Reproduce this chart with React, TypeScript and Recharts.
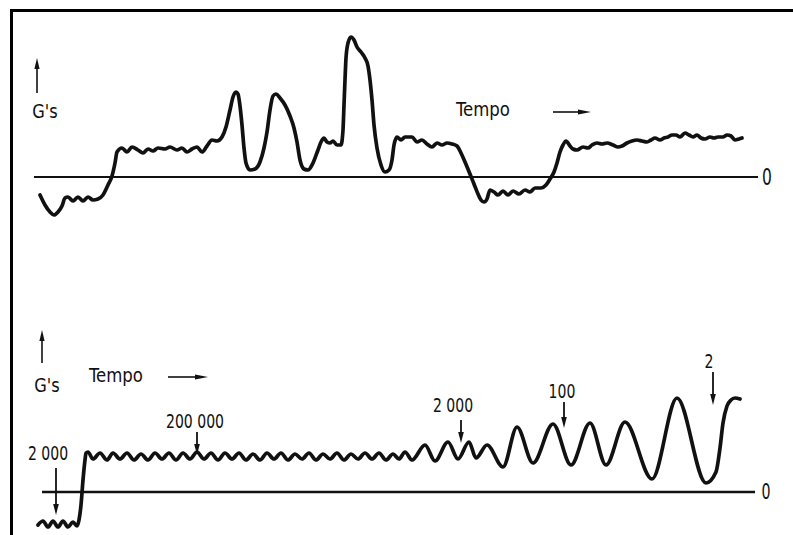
import React from 'react';
import { LineChart, Line, XAxis, YAxis, ReferenceLine, ReferenceDot } from 'recharts';

// ---------- Upper trace (time units, G) ----------
const topTime = [6, 11, 16, 20, 24, 28, 31, 34, 39, 44, 49, 54, 59, 64, 69, 74, 78, 81, 83, 88, 93, 98, 104, 109, 114, 119, 124, 131, 136, 143, 148, 153, 158, 163, 168, 173, 178, 183, 188, 192, 196, 199, 202, 204, 206, 208, 210, 212, 216, 221, 226, 230, 233, 236, 239, 242, 246, 251, 256, 260, 263, 266, 270, 274, 279, 284, 287, 290, 293, 296, 299, 303, 307, 309, 310, 311, 312, 314, 317, 320, 323, 327, 331, 334, 336, 338, 340, 343, 347, 351, 355, 358, 360, 363, 367, 371, 378, 383, 388, 393, 398, 403, 408, 413, 418, 423, 427, 431, 436, 440, 444, 447, 450, 453, 456, 460, 464, 469, 474, 479, 485, 491, 496, 501, 507, 512, 516, 520, 523, 526, 529, 532, 536, 539, 543, 549, 554, 558, 563, 568, 573, 579, 584, 588, 593, 598, 603, 608, 613, 617, 621, 626, 630, 634, 638, 642, 646, 651, 655, 659, 663, 667, 671, 676, 680, 684, 689, 693, 697, 701, 705, 708];
const topG = [-1.8, -2.8, -3.5, -3.8, -3.5, -2.9, -2.1, -2.0, -2.4, -2.0, -2.4, -2.0, -2.3, -2.2, -1.8, -0.8, 0.1, 1.4, 2.5, 2.9, 2.5, 3.0, 2.7, 2.4, 2.8, 2.6, 2.9, 2.8, 3.0, 2.7, 2.9, 2.5, 2.8, 3.0, 2.5, 3.1, 3.7, 3.6, 4.0, 5.0, 6.7, 8.0, 8.5, 8.3, 7.1, 5.2, 2.9, 1.4, 0.7, 0.8, 1.5, 2.9, 4.5, 6.7, 8.1, 8.3, 7.9, 7.2, 6.1, 4.9, 3.5, 1.7, 0.8, 0.7, 1.4, 2.7, 3.5, 3.9, 3.5, 3.4, 3.6, 3.2, 3.2, 4.7, 7.2, 9.7, 11.9, 13.4, 14.0, 13.7, 13.0, 12.5, 11.9, 11.1, 9.7, 7.7, 5.2, 2.9, 1.2, 0.5, 0.7, 1.7, 3.2, 4.0, 3.7, 4.0, 4.0, 3.5, 3.7, 3.3, 3.0, 3.4, 3.2, 3.4, 3.3, 3.1, 2.4, 1.5, 0.3, -0.7, -1.7, -2.3, -2.5, -2.2, -1.3, -1.5, -1.8, -1.4, -1.8, -1.4, -1.7, -1.3, -1.5, -1.1, -1.1, -0.8, -0.2, 0.5, 1.4, 2.5, 3.2, 3.6, 3.1, 2.8, 2.7, 3.0, 2.9, 3.2, 3.4, 3.3, 3.4, 3.2, 3.0, 3.1, 3.4, 3.6, 3.7, 3.6, 3.5, 3.7, 3.9, 3.7, 3.9, 4.0, 4.2, 4.2, 4.0, 4.4, 4.2, 4.0, 4.2, 3.9, 3.8, 4.0, 3.9, 4.0, 4.0, 4.2, 4.1, 3.7, 3.8, 3.9];

// ---------- Lower trace (time units, G) ----------
const bottomTime = [-4, 1, 6, 11, 16, 21, 26, 31, 35, 37, 39, 41, 43, 44, 46, 51, 58, 65, 71, 78, 85, 92, 99, 106, 113, 120, 127, 134, 141, 148, 155, 162, 169, 176, 183, 190, 197, 204, 211, 218, 225, 232, 239, 246, 253, 260, 267, 274, 281, 288, 295, 302, 309, 316, 323, 330, 337, 344, 351, 357, 363, 370, 383, 393, 406, 416, 427, 434, 445, 461, 475, 491, 511, 529, 548, 564, 583, 610, 635, 664, 674, 678, 681, 685, 689, 693, 698];
const bottomG = [-3.3, -2.9, -3.5, -2.9, -3.5, -2.9, -3.5, -3.0, -3.4, -2.8, -1.3, 1.2, 3.2, 3.9, 4.0, 3.3, 3.9, 3.2, 3.9, 3.3, 3.9, 3.2, 3.8, 3.2, 3.9, 3.3, 3.9, 3.2, 3.9, 3.3, 4.0, 3.3, 3.9, 3.2, 3.9, 3.3, 3.9, 3.2, 3.8, 3.2, 3.9, 3.3, 3.9, 3.2, 3.8, 3.3, 3.9, 3.2, 3.8, 3.3, 3.9, 3.2, 3.8, 3.3, 3.9, 3.3, 3.9, 3.2, 3.8, 3.3, 4.0, 3.2, 4.7, 3.1, 5.0, 3.3, 5.0, 3.4, 4.7, 2.5, 6.5, 2.9, 6.8, 2.7, 6.9, 2.7, 7.0, 1.3, 9.4, 0.9, 2.0, 4.4, 6.9, 8.6, 9.2, 9.4, 9.3];

// ---------- Lower annotations (cycle counts) ----------
const markerLabels = ['2 000', '200 000', '2 000', '100', '2'];
const markerTime = [14, 155, 419, 522, 671];
const markerLabelTime = [6, 153, 411, 520, 667];
const markerLabelG = [3.2, 6.4, 8.0, 9.4, 12.4];
const markerStartG = [2.4, 6.0, 7.2, 9.0, 12.0];
const markerTipG = [-2.3, 3.7, 4.9, 6.4, 8.7];

const axisTitleY = "G's";
const axisTitleX = 'Tempo';
const zeroLabel = '0';

const topData = topTime.map((t, i) => ({ t, g: topG[i] }));
const bottomData = bottomTime.map((t, i) => ({ t, g: bottomG[i] }));

const FONT = "'DejaVu Sans Condensed', 'DejaVu Sans', sans-serif";
const INK = '#111';

const textShape = (label: string, size: number, sx: number, central = false) => (p: any) => (
  <text
    transform={`translate(${p.cx},${p.cy}) scale(${sx},1)`}
    x={0}
    y={0}
    textAnchor="middle"
    dominantBaseline={central ? 'central' : 'alphabetic'}
    fontSize={size}
    fontFamily={FONT}
    fill={INK}
  >
    {label}
  </text>
);

const headDown = (len: number, hw: number) => (p: any) => (
  <polygon points={`${p.cx},${p.cy} ${p.cx - hw},${p.cy - len} ${p.cx + hw},${p.cy - len}`} fill={INK} />
);
const headUp = (len: number, hw: number) => (p: any) => (
  <polygon points={`${p.cx},${p.cy} ${p.cx - hw},${p.cy + len} ${p.cx + hw},${p.cy + len}`} fill={INK} />
);
const headRight = (len: number, hw: number) => (p: any) => (
  <polygon points={`${p.cx},${p.cy} ${p.cx - len},${p.cy - hw} ${p.cx - len},${p.cy + hw}`} fill={INK} />
);

const W = 793;

export default function App() {
  return (
    <div style={{ position: 'absolute', left: 0, top: 0, width: W, height: 535, overflow: 'hidden', background: '#fff' }}>
      <div
        style={{
          position: 'absolute',
          left: 10,
          top: 9,
          width: 900,
          height: 700,
          border: '3px solid #000',
          boxSizing: 'border-box',
        }}
      />
      {/* Upper chart */}
      <div style={{ position: 'absolute', left: 0, top: 0 }}>
        <LineChart width={W} height={265} data={topData} margin={{ top: 17, right: 10, left: 24, bottom: 28 }}>
          <XAxis dataKey="t" type="number" domain={[-10, 749]} allowDataOverflow hide />
          <YAxis type="number" domain={[-6, 16]} allowDataOverflow hide />
          <ReferenceLine segment={[{ x: 0, y: 0 }, { x: 724, y: 0 }]} stroke={INK} strokeWidth={2} ifOverflow="visible" />
          <ReferenceDot x={733} y={0} r={0} ifOverflow="visible" shape={textShape(zeroLabel, 23, 0.75, true)} />
          <ReferenceDot x={11} y={5.9} r={0} ifOverflow="visible" shape={textShape(axisTitleY, 20, 0.9)} />
          <ReferenceLine segment={[{ x: 3, y: 8.4 }, { x: 3, y: 11.0 }]} stroke={INK} strokeWidth={1.6} ifOverflow="visible" />
          <ReferenceDot x={3} y={11.9} r={0} ifOverflow="visible" shape={headUp(11, 2.6)} />
          <ReferenceDot x={449} y={6.1} r={0} ifOverflow="visible" shape={textShape(axisTitleX, 20, 0.92)} />
          <ReferenceLine segment={[{ x: 519, y: 6.5 }, { x: 548, y: 6.5 }]} stroke={INK} strokeWidth={1.6} ifOverflow="visible" />
          <ReferenceDot x={557} y={6.5} r={0} ifOverflow="visible" shape={headRight(13, 2.6)} />
          <Line
            type="monotone"
            dataKey="g"
            stroke={INK}
            strokeWidth={3.7}
            dot={false}
            strokeLinejoin="round"
            strokeLinecap="round"
            isAnimationActive={false}
          />
        </LineChart>
      </div>
      {/* Lower chart */}
      <div style={{ position: 'absolute', left: 0, top: 265 }}>
        <LineChart width={W} height={270} data={bottomData} margin={{ top: 47, right: 10, left: 24, bottom: 3 }}>
          <XAxis dataKey="t" type="number" domain={[-18, 741]} allowDataOverflow hide />
          <YAxis type="number" domain={[-4, 18]} allowDataOverflow hide />
          <ReferenceLine segment={[{ x: 0, y: 0 }, { x: 713, y: 0 }]} stroke={INK} strokeWidth={2.5} ifOverflow="visible" />
          <ReferenceDot x={724} y={0} r={0} ifOverflow="visible" shape={textShape(zeroLabel, 21, 0.75, true)} />
          <ReferenceDot x={5} y={10.0} r={0} ifOverflow="visible" shape={textShape(axisTitleY, 20, 0.9)} />
          <ReferenceLine segment={[{ x: 0, y: 12.9 }, { x: 0, y: 15.4 }]} stroke={INK} strokeWidth={1.6} ifOverflow="visible" />
          <ReferenceDot x={0} y={16.2} r={0} ifOverflow="visible" shape={headUp(11, 2.6)} />
          <ReferenceDot x={74} y={11.0} r={0} ifOverflow="visible" shape={textShape(axisTitleX, 20, 0.92)} />
          <ReferenceLine segment={[{ x: 126, y: 11.5 }, { x: 156, y: 11.5 }]} stroke={INK} strokeWidth={1.6} ifOverflow="visible" />
          <ReferenceDot x={166} y={11.5} r={0} ifOverflow="visible" shape={headRight(13, 2.6)} />
          {markerLabels.map((lab, i) => (
            <ReferenceDot
              key={'ml' + i}
              x={markerLabelTime[i]}
              y={markerLabelG[i]}
              r={0}
              ifOverflow="visible"
              shape={textShape(lab, 20, 0.78)}
            />
          ))}
          {markerLabels.map((lab, i) => (
            <ReferenceLine
              key={'ms' + i}
              segment={[
                { x: markerTime[i], y: markerStartG[i] },
                { x: markerTime[i], y: markerTipG[i] + 0.6 },
              ]}
              stroke={INK}
              strokeWidth={1.8}
              ifOverflow="visible"
            />
          ))}
          {markerLabels.map((lab, i) => (
            <ReferenceDot
              key={'mh' + i}
              x={markerTime[i]}
              y={markerTipG[i]}
              r={0}
              ifOverflow="visible"
              shape={headDown(11, 2.8)}
            />
          ))}
          <Line
            type="monotone"
            dataKey="g"
            stroke={INK}
            strokeWidth={3.7}
            dot={false}
            strokeLinejoin="round"
            strokeLinecap="round"
            isAnimationActive={false}
          />
        </LineChart>
      </div>
    </div>
  );
}
